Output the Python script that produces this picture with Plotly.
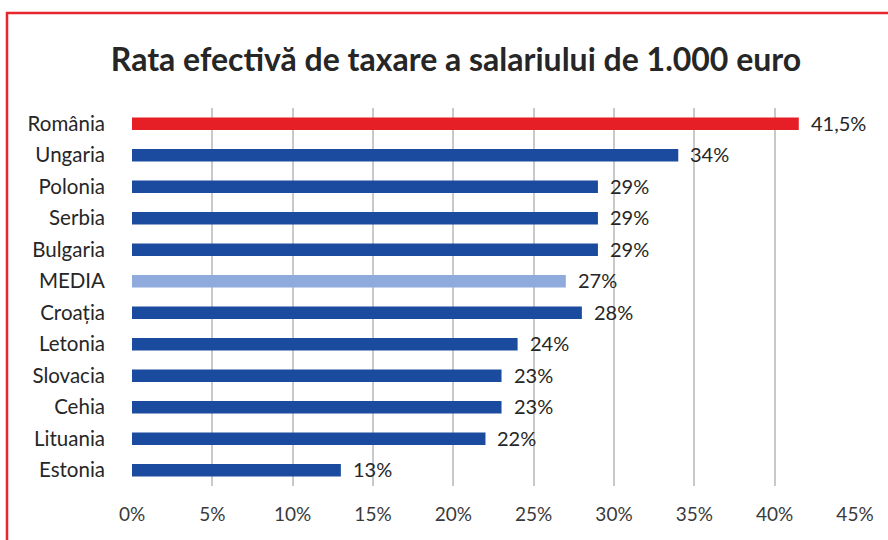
import plotly.graph_objects as go

categories = ["România", "Ungaria", "Polonia", "Serbia", "Bulgaria", "MEDIA",
              "Croația", "Letonia", "Slovacia", "Cehia", "Lituania", "Estonia"]
values = [41.5, 34, 29, 29, 29, 27, 28, 24, 23, 23, 22, 13]
tick_vals = [0, 5, 10, 15, 20, 25, 30, 35, 40, 45]
tick_text = [f"{t}%" for t in tick_vals]

RED = "#e61e26"
BLUE = "#1b4b9e"
LIGHT = "#8faadc"
colors = [RED if c == "România" else (LIGHT if c == "MEDIA" else BLUE) for c in categories]
labels = [(f"{v:g}%").replace(".", ",") for v in values]

FONT = "Lato, 'Open Sans', sans-serif"

W, H = 888, 540
L, T = 132, 108
R = W - 855
B = H - 486
pw, ph = W - L - R, H - T - B

def px2x(p):
    return (p - L) / pw

def py2y(p):
    return (H - B - p) / ph

fig = go.Figure()
fig.add_trace(go.Bar(
    x=values, y=categories, orientation="h",
    marker=dict(color=colors, line=dict(width=0)),
    width=0.4, hoverinfo="skip",
))

for c, v, t in zip(categories, values, labels):
    fig.add_annotation(x=v, y=c, text=t, showarrow=False, xanchor="left",
                       xshift=10, yshift=1, font=dict(size=20, color="#262626", family=FONT))

fig.add_shape(type="line", xref="paper", yref="paper",
              x0=px2x(6), x1=px2x(900), y0=py2y(13), y1=py2y(13),
              line=dict(color="#e8262e", width=2.5))
fig.add_shape(type="line", xref="paper", yref="paper",
              x0=px2x(7), x1=px2x(7), y0=py2y(12), y1=py2y(560),
              line=dict(color="#e8262e", width=2.5))

fig.update_layout(
    width=W, height=H,
    margin=dict(l=L, r=R, t=T, b=B),
    paper_bgcolor="white", plot_bgcolor="white",
    showlegend=False,
    title=dict(text="<b>Rata efectivă de taxare a salariului de 1.000 euro</b>",
               x=456 / W, xanchor="center", y=1 - 60 / H, yanchor="middle",
               font=dict(size=32, color="#262626", family=FONT)),
    xaxis=dict(range=[0, 45], tickvals=tick_vals, ticktext=tick_text,
               showgrid=True, gridcolor="#c9c9c9", gridwidth=1.5,
               zeroline=False, showline=False, ticks="",
               ticklabelstandoff=15,
               tickfont=dict(size=19, color="#3a3a3a", family=FONT)),
    yaxis=dict(categoryorder="array", categoryarray=categories, autorange="reversed",
               showgrid=False, zeroline=False, showline=False, ticks="",
               ticklabelstandoff=26,
               tickfont=dict(size=20.5, color="#262626", family=FONT)),
)

fig.write_html("out.html", config={"displayModeBar": False},
               post_script="document.body.style.margin='0px';")
